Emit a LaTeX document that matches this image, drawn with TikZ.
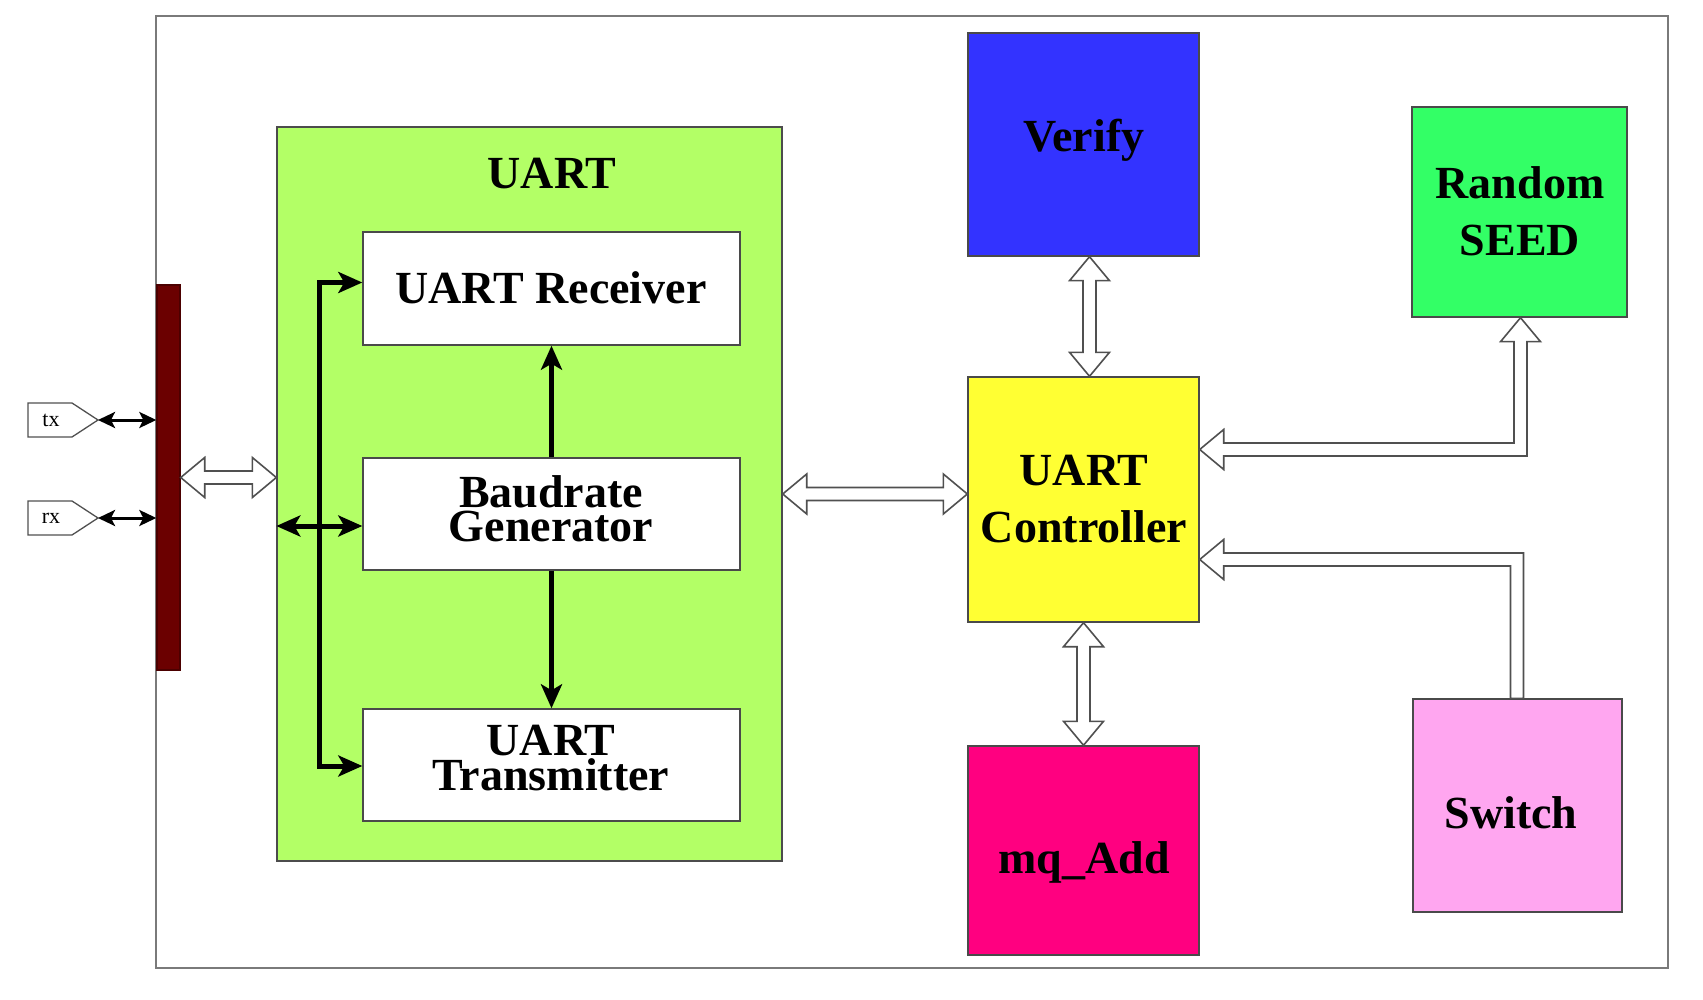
\documentclass[tikz,border=0pt]{standalone}
\usepackage{fontspec}
\setmainfont{Liberation Serif}
\usetikzlibrary{arrows.meta,calc}
\definecolor{cVerify}{HTML}{3333FF}
\definecolor{cCtrl}{HTML}{FFFF33}
\definecolor{cMq}{HTML}{FF0080}
\definecolor{cSeed}{HTML}{33FF66}
\definecolor{cSw}{HTML}{FFA6F0}
\definecolor{cUart}{HTML}{B3FF66}
\definecolor{cBus}{HTML}{6B0000}
\definecolor{boxline}{HTML}{4A4A4A}
\definecolor{frameline}{HTML}{7A7A7A}
\definecolor{arrline}{HTML}{505050}
\def\sw{6.5pt}\def\hw{20pt}\def\hl{24pt}
\begin{document}
\begin{tikzpicture}[x=1pt,y=-1pt,
  box/.style={draw=boxline,line width=1.4pt,inner sep=0pt,rectangle},
  lbl/.style={font=\bfseries\fontsize{46}{50}\selectfont,anchor=base,inner sep=0pt},
  pinlbl/.style={font=\fontsize{22}{24}\selectfont,inner sep=0pt},
  pinline/.style={draw=arrline,fill=white,line width=1.3pt},
  hollow/.style={draw=arrline,fill=white,line width=1.6pt,line join=miter},
  blk/.style={line width=5pt,black,>={Stealth[length=24pt,width=21pt,inset=6pt]}},
  thinblk/.style={line width=3pt,black,>={Stealth[length=17pt,width=16pt,inset=4pt]}}]
\useasboundingbox (0,0) rectangle (1703,1000);
\fill[white] (0,0) rectangle (1703,1000);

% outer frame
\node[draw=frameline,line width=2pt,inner sep=0pt,minimum width=1512pt,minimum height=952pt] (frame) at (912,492) {};

% bus bar
\node[box,fill=cBus,draw=cBus!70!black,minimum width=23pt,minimum height=385pt] (bus) at (168.5,477.5) {};

% UART block
\node[box,fill=cUart,draw=gray!60!black,minimum width=505pt,minimum height=734pt] (uart) at (529.5,494) {};
\node[lbl] (uartT) at (552,189) {UART};
\node[box,fill=white,minimum width=377pt,minimum height=113pt] (rcv) at (551.5,288.5) {};
\node[lbl] (rcvT) at (551,304) {UART Receiver};
\node[box,fill=white,minimum width=377pt,minimum height=112pt] (baud) at (551.5,514) {};
\node[lbl] (baudT1) at (551,507) {Baudrate};
\node[lbl] (baudT2) at (551,541) {Generator};
\node[box,fill=white,minimum width=377pt,minimum height=112pt] (tsm) at (551.5,765) {};
\node[lbl] (tsmT1) at (551,755) {UART};
\node[lbl] (tsmT2) at (551,790) {Transmitter};

% right blocks
\node[box,fill=cVerify,minimum width=231pt,minimum height=223pt] (verify) at (1083.5,144.5) {};
\node[lbl] (verifyT) at (1084,152) {Verify};
\node[box,fill=cCtrl,minimum width=231pt,minimum height=245pt] (ctrl) at (1083.5,499.5) {};
\node[lbl] (ctrlT1) at (1084,485) {UART};
\node[lbl] (ctrlT2) at (1084,542) {Controller};
\node[box,fill=cMq,minimum width=231pt,minimum height=209pt] (mq) at (1083.5,850.5) {};
\node[lbl] (mqT) at (1084,873) {mq\_Add};
\node[box,fill=cSeed,minimum width=215pt,minimum height=210pt] (seed) at (1519.5,212) {};
\node[lbl] (seedT1) at (1520,199) {Random};
\node[lbl] (seedT2) at (1520,256) {SEED};
\node[box,fill=cSw,minimum width=209pt,minimum height=213pt] (sw) at (1517.5,805.5) {};
\node[lbl] (swT) at (1511,828) {Switch};

% pins
\draw[pinline] (28,403) -- (72,403) -- (98,420) -- (72,437) -- (28,437) -- cycle;
\node[pinlbl] (tx) at (51,420) {tx};
\coordinate (txtip) at (98,420);
\draw[pinline] (28,501) -- (72,501) -- (98,518) -- (72,535) -- (28,535) -- cycle;
\node[pinlbl] (rx) at (51,518) {rx};
\coordinate (rxtip) at (98,518);
\draw[thinblk,<->] (txtip) -- (txtip -| bus.west);
\draw[thinblk,<->] (rxtip) -- (rxtip -| bus.west);

% black arrows inside UART
\coordinate (vbus) at (319,526);
\draw[blk,->] (vbus) |- ([yshift=6pt]rcv.west);
\draw[blk,->] (vbus) |- ([yshift=-1pt]tsm.west);
\draw[blk,<->] (uart.west |- vbus) -- (baud.west |- vbus);
\draw[blk,->] (baud.north) -- (rcv.south);
\draw[blk,->] (baud.south) -- (tsm.north);

% hollow arrows
\draw[hollow] let \p1=(bus.east), \p2=(uart.west) in
  (\x1,\y1) -- (\x1+\hl,\y1+\hw) -- (\x1+\hl,\y1+\sw) -- (\x2-\hl,\y1+\sw) -- (\x2-\hl,\y1+\hw) -- (\x2,\y1)
  -- (\x2-\hl,\y1-\hw) -- (\x2-\hl,\y1-\sw) -- (\x1+\hl,\y1-\sw) -- (\x1+\hl,\y1-\hw) -- cycle;
\draw[hollow] let \p1=(uart.east), \p2=(ctrl.west) in
  (\x1,\y1) -- (\x1+\hl,\y1+\hw) -- (\x1+\hl,\y1+\sw) -- (\x2-\hl,\y1+\sw) -- (\x2-\hl,\y1+\hw) -- (\x2,\y1)
  -- (\x2-\hl,\y1-\hw) -- (\x2-\hl,\y1-\sw) -- (\x1+\hl,\y1-\sw) -- (\x1+\hl,\y1-\hw) -- cycle;
\draw[hollow] let \p1=([xshift=6pt]verify.south), \p2=(ctrl.north) in
  (\x1,\y1) -- (\x1+\hw,\y1-\hl) -- (\x1+\sw,\y1-\hl) -- (\x1+\sw,\y2+\hl) -- (\x1+\hw,\y2+\hl) -- (\x1,\y2)
  -- (\x1-\hw,\y2+\hl) -- (\x1-\sw,\y2+\hl) -- (\x1-\sw,\y1-\hl) -- (\x1-\hw,\y1-\hl) -- cycle;
\draw[hollow] let \p1=(ctrl.south), \p2=(mq.north) in
  (\x1,\y1) -- (\x1+\hw,\y1-\hl) -- (\x1+\sw,\y1-\hl) -- (\x1+\sw,\y2+\hl) -- (\x1+\hw,\y2+\hl) -- (\x1,\y2)
  -- (\x1-\hw,\y2+\hl) -- (\x1-\sw,\y2+\hl) -- (\x1-\sw,\y1-\hl) -- (\x1-\hw,\y1-\hl) -- cycle;
\draw[hollow] let \p1=([yshift=50pt]ctrl.east), \p2=([xshift=1pt]seed.south) in
  (\x1,\y1) -- (\x1+\hl,\y1+\hw) -- (\x1+\hl,\y1+\sw) -- (\x2-\sw,\y1+\sw) -- (\x2-\sw,\y2-\hl) -- (\x2-\hw,\y2-\hl)
  -- (\x2,\y2) -- (\x2+\hw,\y2-\hl) -- (\x2+\sw,\y2-\hl) -- (\x2+\sw,\y1-\sw) -- (\x1+\hl,\y1-\sw) -- (\x1+\hl,\y1-\hw) -- cycle;
\draw[hollow] let \p1=([yshift=-60pt]ctrl.east), \p2=([xshift=-0.5pt]sw.north) in
  (\x1,\y1) -- (\x1+\hl,\y1+\hw) -- (\x1+\hl,\y1+\sw) -- (\x2+\sw,\y1+\sw) -- (\x2+\sw,\y2) -- (\x2-\sw,\y2)
  -- (\x2-\sw,\y1-\sw) -- (\x1+\hl,\y1-\sw) -- (\x1+\hl,\y1-\hw) -- cycle;
\end{tikzpicture}
\end{document}
